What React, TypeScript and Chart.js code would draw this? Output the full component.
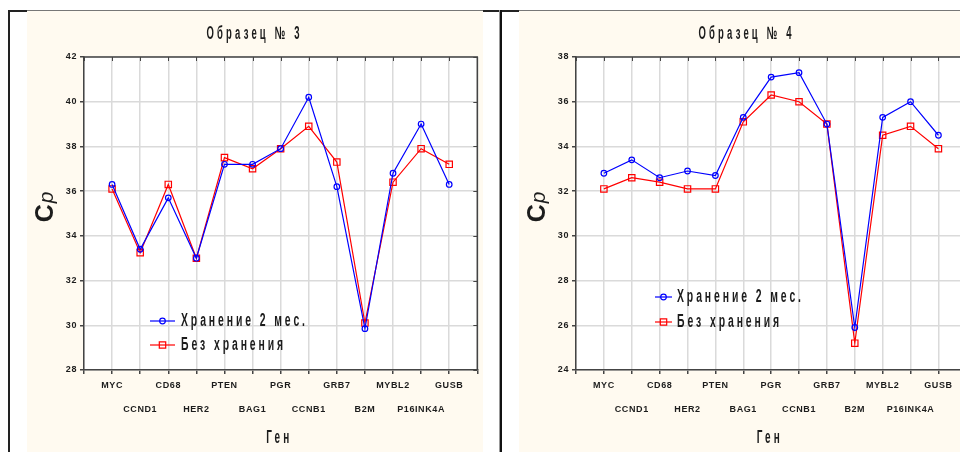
import React, { useEffect, useRef } from 'react';
import { Chart, registerables } from 'chart.js';

Chart.register(...registerables);

// ---- data ----
const genes = ['MYC', 'CCND1', 'CD68', 'HER2', 'PTEN', 'BAG1', 'PGR', 'CCNB1', 'GRB7', 'B2M', 'MYBL2', 'P16INK4A', 'GUSB'];
const seriesNames = ['Хранение 2 мес.', 'Без хранения'];
const xAxisTitle = 'Ген';
const yAxisTitleMain = 'C';
const yAxisTitleSub = 'p';
const panelTitles = ['Образец № 3', 'Образец № 4'];

const sample3Stored = [36.3, 33.4, 35.7, 33.0, 37.2, 37.2, 37.9, 40.2, 36.2, 29.85, 36.8, 39.0, 36.3];
const sample3Fresh = [36.1, 33.25, 36.3, 33.0, 37.5, 37.0, 37.9, 38.9, 37.3, 30.1, 36.4, 37.9, 37.2];
const sample4Stored = [32.8, 33.4, 32.6, 32.9, 32.7, 35.3, 37.1, 37.3, 35.0, 25.9, 35.3, 36.0, 34.5];
const sample4Fresh = [32.1, 32.6, 32.4, 32.1, 32.1, 35.1, 36.3, 36.0, 35.0, 25.2, 34.5, 34.9, 33.9];

const yTicks3 = [28, 30, 32, 34, 36, 38, 40, 42];
const yTicks4 = [24, 26, 28, 30, 32, 34, 36, 38];

// ---- style ----
const FONT = "'Liberation Sans', Arial, sans-serif";
const CREAM = '#fffaf0';
const TEXT = '#1c1c1c';
const BLUE = '#0000ff';
const RED = '#ff0000';
const GRID = '#dadada';
const AXIS = '#444444';

// draws bold text condensed horizontally so that it spans targetWidth
function condensedText(
  ctx: CanvasRenderingContext2D,
  text: string,
  x: number,
  y: number,
  size: number,
  spacing: number,
  targetWidth: number,
  align: 'left' | 'center',
  fixedScale?: number
): number {
  ctx.save();
  ctx.font = `bold ${size}px ${FONT}`;
  (ctx as any).letterSpacing = `${spacing}px`;
  const w = ctx.measureText(text).width - spacing;
  const sx = fixedScale ?? targetWidth / w;
  ctx.translate(x, y);
  ctx.scale(sx, 1);
  ctx.fillStyle = TEXT;
  ctx.textAlign = 'left';
  ctx.textBaseline = 'middle';
  ctx.fillText(text, align === 'center' ? -w / 2 : 0, 0);
  ctx.restore();
  return sx;
}

type LegendPos = { x0: number; x1: number; y0: number; y1: number; tx: number };

type PanelProps = {
  left: number;
  width: number;
  title: string;
  stored: number[];
  fresh: number[];
  yTicks: number[];
  legend: LegendPos;
};

function Panel({ left, width, title, stored, fresh, yTicks, legend }: PanelProps) {
  const ref = useRef<HTMLCanvasElement>(null);

  useEffect(() => {
    const canvas = ref.current;
    if (!canvas) return;

    const overlay = {
      id: 'overlay',
      beforeDraw(chart: any) {
        const { ctx, chartArea: a } = chart;
        ctx.save();
        ctx.fillStyle = CREAM;
        ctx.fillRect(0, 0, chart.width, chart.height);
        ctx.fillStyle = '#ffffff';
        ctx.fillRect(a.left, a.top, a.right - a.left, a.bottom - a.top);
        ctx.restore();
        (ctx as any).letterSpacing = '0.6px';
      },
      afterDraw(chart: any) {
        const { ctx, chartArea: a, scales } = chart;
        ctx.save();
        // top / right frame
        ctx.strokeStyle = AXIS;
        ctx.lineWidth = 1.5;
        ctx.beginPath();
        ctx.moveTo(a.left, a.top);
        ctx.lineTo(a.right, a.top);
        ctx.lineTo(a.right, a.bottom);
        ctx.stroke();
        // inward ticks on top and right
        ctx.lineWidth = 1;
        ctx.beginPath();
        scales.x.ticks.forEach((t: any) => {
          const px = Math.round(scales.x.getPixelForValue(t.value)) + 0.5;
          ctx.moveTo(px, a.top);
          ctx.lineTo(px, a.top + 4);
        });
        scales.y.ticks.forEach((t: any) => {
          const py = Math.round(scales.y.getPixelForValue(t.value)) + 0.5;
          ctx.moveTo(a.right, py);
          ctx.lineTo(a.right - 4, py);
        });
        ctx.stroke();

        // panel title
        condensedText(ctx, title, 226, 23, 18, 6, 93, 'center');

        // x axis title
        condensedText(ctx, xAxisTitle, (a.left + a.right) / 2 - 3, 427, 19, 6, 23, 'center');

        // y axis title "Cp"
        ctx.save();
        (ctx as any).letterSpacing = '0px';
        ctx.translate(26, 196);
        ctx.rotate(-Math.PI / 2);
        ctx.fillStyle = TEXT;
        ctx.textAlign = 'left';
        ctx.textBaseline = 'alphabetic';
        const cFont = "bold 25px 'Liberation Sans', Arial, sans-serif";
        const pFont = "italic 21px 'Liberation Sans', Arial, sans-serif";
        ctx.font = cFont;
        const cw = ctx.measureText(yAxisTitleMain).width;
        ctx.font = pFont;
        const pw = ctx.measureText(yAxisTitleSub).width;
        const start = -(cw + pw + 1) / 2;
        ctx.font = cFont;
        ctx.fillText(yAxisTitleMain, start, 0);
        ctx.font = pFont;
        ctx.fillText(yAxisTitleSub, start + cw + 1, 0);
        ctx.restore();

        // legend
        const rows = [
          { name: seriesNames[0], color: BLUE, style: 'circle', y: legend.y0 },
          { name: seriesNames[1], color: RED, style: 'rect', y: legend.y1 },
        ];
        let sx: number | undefined;
        rows.forEach((r) => {
          ctx.strokeStyle = r.color;
          ctx.lineWidth = 1.2;
          ctx.beginPath();
          ctx.moveTo(legend.x0, r.y);
          ctx.lineTo(legend.x1, r.y);
          ctx.stroke();
          const cx = (legend.x0 + legend.x1) / 2;
          ctx.beginPath();
          if (r.style === 'circle') {
            ctx.arc(cx, r.y, 2.8, 0, Math.PI * 2);
          } else {
            ctx.rect(cx - 3.2, r.y - 3.2, 6.4, 6.4);
          }
          ctx.stroke();
          sx = condensedText(ctx, r.name, legend.tx, r.y, 18, 5, 124, 'left', sx);
        });
        ctx.restore();
      },
    };

    const tickFont = { family: FONT, size: 9, weight: 'bold' as const };

    const chart = new Chart(canvas, {
      type: 'line',
      data: {
        datasets: [
          {
            label: seriesNames[0],
            data: stored.map((v, i) => ({ x: i + 1, y: v })),
            borderColor: BLUE,
            borderWidth: 1.2,
            backgroundColor: 'rgba(0,0,0,0)',
            pointStyle: 'circle',
            pointRadius: 2.8,
            pointBorderWidth: 1.2,
            pointBorderColor: BLUE,
            pointBackgroundColor: 'rgba(0,0,0,0)',
            tension: 0,
          },
          {
            label: seriesNames[1],
            data: fresh.map((v, i) => ({ x: i + 1, y: v })),
            borderColor: RED,
            borderWidth: 1.2,
            backgroundColor: 'rgba(0,0,0,0)',
            pointStyle: 'rect',
            pointRadius: 4.5,
            pointBorderWidth: 1.2,
            pointBorderColor: RED,
            pointBackgroundColor: 'rgba(0,0,0,0)',
            tension: 0,
          },
        ],
      },
      options: {
        responsive: false,
        animation: false,
        devicePixelRatio: 1,
        layout: { padding: { top: 46, right: 5, left: 0, bottom: 0 } },
        plugins: {
          legend: { display: false },
          title: { display: false },
          tooltip: { enabled: false },
        },
        scales: {
          x: {
            type: 'linear',
            min: 0,
            max: genes.length + 1,
            afterFit: (s: any) => {
              s.height = 82;
            },
            ticks: {
              stepSize: 1,
              autoSkip: false,
              maxRotation: 0,
              minRotation: 0,
              padding: 0,
              color: TEXT,
              font: { ...tickFont, lineHeight: 2.65 },
              callback: (v: any) => {
                const i = Math.round(Number(v)) - 1;
                const g = genes[i];
                if (!g) return '';
                return i % 2 === 0 ? g : ['', g];
              },
            },
            grid: { color: GRID, lineWidth: 1.5, tickLength: 4, tickColor: AXIS, drawTicks: true },
            border: { color: AXIS, width: 1.5 },
            title: { display: false },
          },
          y: {
            type: 'linear',
            min: yTicks[0],
            max: yTicks[yTicks.length - 1],
            afterFit: (s: any) => {
              s.width = 57;
            },
            ticks: {
              stepSize: yTicks[1] - yTicks[0],
              padding: 3,
              color: TEXT,
              font: tickFont,
            },
            grid: { color: GRID, lineWidth: 1.5, tickLength: 4, tickColor: AXIS, drawTicks: true },
            border: { color: AXIS, width: 1.5 },
          },
        },
      },
      plugins: [overlay],
    } as any);

    return () => chart.destroy();
  }, []);

  return (
    <canvas
      ref={ref}
      width={width}
      height={441}
      style={{ position: 'absolute', left, top: 11, width, height: 441, display: 'block' }}
    />
  );
}

export default function App() {
  const line = (l: number, t: number, w: number, h: number, c: string) => (
    <div style={{ position: 'absolute', left: l, top: t, width: w, height: h, background: c }} />
  );
  return (
    <div
      style={{
        position: 'fixed',
        left: 0,
        top: 0,
        width: 960,
        height: 452,
        overflow: 'hidden',
        background: '#ffffff',
      }}
    >
      <Panel
        left={27}
        width={456}
        title={panelTitles[0]}
        stored={sample3Stored}
        fresh={sample3Fresh}
        yTicks={yTicks3}
        legend={{ x0: 123, x1: 148, y0: 310, y1: 334, tx: 154 }}
      />
      <Panel
        left={519}
        width={453}
        title={panelTitles[1]}
        stored={sample4Stored}
        fresh={sample4Fresh}
        yTicks={yTicks4}
        legend={{ x0: 136, x1: 153, y0: 286, y1: 311, tx: 158 }}
      />
      {line(8, 10, 952, 1, '#777')}
      {line(8, 10, 19, 2, '#222')}
      {line(483, 10, 36, 2, '#222')}
      {line(8, 10, 2, 442, '#222')}
      {line(499, 10, 1, 442, '#999')}
      {line(500, 10, 2, 442, '#111')}
    </div>
  );
}
